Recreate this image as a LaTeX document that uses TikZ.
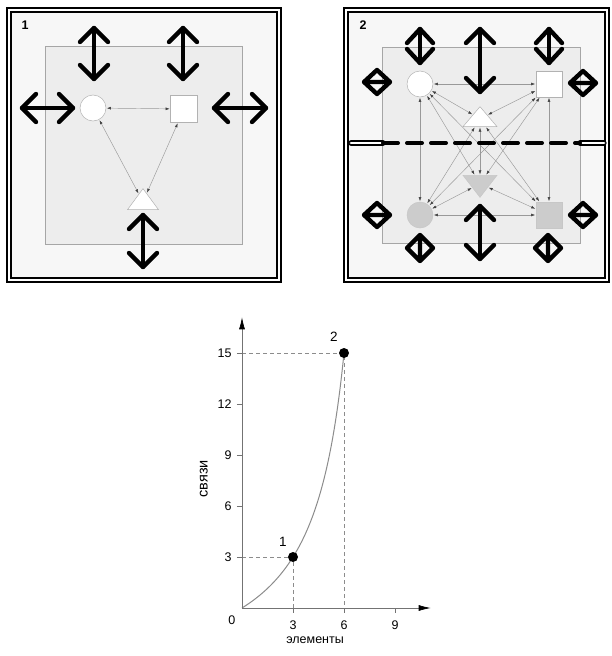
\documentclass[tikz,border=0pt]{standalone}
\usepackage{fontspec}
\setmainfont{Liberation Sans}
\usetikzlibrary{arrows.meta,shapes.geometric}

% thick open-headed double arrows and diamond markers
\newcommand\ArrV[3]{% x, y top, y bottom
  \draw[bigarrow] (#1-14,#2+14) -- (#1,#2) -- (#1+14,#2+14);
  \draw[bigarrow] (#1,#2) -- (#1,#3);
  \draw[bigarrow] (#1-14,#3-14) -- (#1,#3) -- (#1+14,#3-14);}
\newcommand\ArrH[3]{% y, x left, x right
  \draw[bigarrow] (#2+14,#1-14) -- (#2,#1) -- (#2+14,#1+14);
  \draw[bigarrow] (#2,#1) -- (#3,#1);
  \draw[bigarrow] (#3-14,#1-14) -- (#3,#1) -- (#3-14,#1+14);}
\newcommand\ChevV[2]{% short vertical double arrow centred at x, y
  \draw[bigarrow] (#1-13,#2-3) -- (#1,#2-17) -- (#1+13,#2-3);
  \draw[bigarrow] (#1-13,#2+3) -- (#1,#2+17) -- (#1+13,#2+3);
  \draw[bigarrow] (#1,#2-17) -- (#1,#2+17);}
\newcommand\DiamH[2]{% diamond with horizontal bar
  \draw[bigarrow] (#1-13,#2) -- (#1,#2-12) -- (#1+13,#2) -- (#1,#2+12) -- cycle
    (#1-13,#2) -- (#1+13,#2);}
\newcommand\DiamV[2]{% diamond with vertical bar
  \draw[bigarrow] (#1-13,#2) -- (#1,#2-13) -- (#1+13,#2) -- (#1,#2+13) -- cycle
    (#1,#2-13) -- (#1,#2+13);}

\begin{document}
\begin{tikzpicture}[x=1pt,y=-1pt,
  frame/.style={draw=black,line width=1.6pt,double=white,double distance=2.4pt},
  panelbg/.style={fill=black!3},
  innerbox/.style={draw=black!35,line width=0.6pt,fill=black!7},
  bigarrow/.style={draw=black,line width=4.4pt,line cap=round,line join=round},
  shapebase/.style={line width=0.5pt,inner sep=0pt},
  whitenode/.style={shapebase,draw=black!30,fill=white},
  graynode/.style={shapebase,draw=black!22,fill=black!20},
  roundnode/.style={circle,minimum size=26pt},
  squarenode/.style={rectangle,minimum size=26pt},
  tri/.style={isosceles triangle,isosceles triangle stretches,
    minimum width=#1,inner sep=0pt},
  link/.style={draw=black!40,line width=0.45pt,
    {Latex[length=4pt,width=2.8pt,color=black!75]}-{Latex[length=4pt,width=2.8pt,color=black!75]},
    shorten <=0.6pt,shorten >=0.6pt},
  pipe/.style={draw=black,line width=1.2pt,double=white,double distance=2.8pt,line cap=round},
  cut/.style={draw=black,line width=4pt,dash pattern=on 15pt off 9pt,line cap=round},
  panellabel/.style={font=\bfseries\fontsize{12.5}{14}\selectfont,inner sep=0pt},
  axis/.style={draw=black!55,line width=0.7pt,-{Latex[length=12pt,width=6pt,color=black]}},
  guide/.style={draw=black!45,line width=0.5pt,dash pattern=on 4pt off 3pt},
  curveline/.style={draw=black!45,line width=1pt},
  dot/.style={circle,fill=black,inner sep=0pt,minimum size=10pt},
  ticklabel/.style={font=\fontsize{12.5}{14}\selectfont,inner sep=0pt},
  axislabel/.style={font=\fontsize{12.5}{14}\selectfont,inner sep=0pt}]

\useasboundingbox[fill=white] (0,0) rectangle (612,656);

% ---------------- panel 1 ----------------
\path[panelbg] (9,10) rectangle (279,280);
\draw[frame] (9,10) rectangle (279,280);
\path[innerbox] (45,46) rectangle (242,244);
\node[panellabel] (lab1) at (25,25) {1};

\node[whitenode,roundnode] (a1) at (93,108) {};
\node[whitenode,squarenode,minimum size=27pt] (b1) at (184,109) {};
\node[whitenode,tri=31pt,shape border rotate=90,minimum height=21pt,anchor=apex] (c1) at (143,188) {};

\draw[link] (a1) -- (b1);
\draw[link] (a1) -- (c1);
\draw[link] (b1) -- (c1);

\ArrV{94}{28}{79}
\ArrV{183}{28}{79}
\ArrH{108}{22}{73}
\ArrH{108}{214}{266}
\ArrV{143}{215}{267}

% ---------------- panel 2 ----------------
\path[panelbg] (346,10) rectangle (607,280);
\draw[frame] (346,10) rectangle (607,280);
\path[innerbox] (382,47) rectangle (580,243);
\node[panellabel] (lab2) at (363,25) {2};

\node[whitenode,roundnode] (p) at (420,84) {};
\node[whitenode,squarenode] (q) at (549,84) {};
\node[whitenode,tri=34pt,shape border rotate=90,minimum height=20pt,anchor=apex] (r) at (480,106) {};
\node[graynode,tri=34pt,shape border rotate=270,minimum height=22pt,anchor=apex] (s) at (480,198) {};
\node[graynode,roundnode] (t) at (420,215) {};
\node[graynode,squarenode] (u) at (549,215) {};

\foreach \i/\j in {p/q,p/t,q/u,t/u,r/s,p/r,q/r,p/s,q/s,t/r,u/r,t/s,u/s,p/u,q/t}
  \draw[link] (\i) -- (\j);

% divider across the panel
\coordinate (cutL) at (383,143);
\coordinate (cutR) at (580,143);
\coordinate (wallL) at (351,143);
\coordinate (wallR) at (604,143);
\draw[pipe] (wallL) -- (cutL);
\draw[pipe] (cutR) -- (wallR);
\draw[cut] (cutL) -- (cutR);

\ChevV{420}{46}
\ChevV{549}{46}
\ArrV{480}{29}{92}
\ArrV{480}{206}{259}
\DiamH{377}{82}
\DiamH{377}{215}
\DiamH{583}{83}
\DiamH{583}{215}
\DiamV{420}{248}
\DiamV{548}{248}

% ---------------- growth chart ----------------
\begin{scope}[shift={(242,608)},x=17pt,y=17pt]
  \coordinate (o) at (0,0);
  \coordinate (xend) at (11.1,0);
  \coordinate (yend) at (0,17.1);
  \draw[guide] (0,15) -- (6,15) -- (6,0);
  \draw[guide] (0,3) -- (3,3) -- (3,0);
  \draw[curveline] plot[domain=0:6,samples=90,smooth] (\x,{5*\x/(8-\x)});
  \draw[axis] (o) -- (xend);
  \draw[axis] (o) -- (yend);
  \foreach \k in {3,6,9,12,15} {
    \draw[black!55,line width=0.6pt] (-0.3,\k) -- (0,\k);
    \node[ticklabel,anchor=east] at (-0.6,\k) {\k};
  }
  \foreach \k in {3,6,9} {
    \draw[black!55,line width=0.6pt] (\k,0) -- (\k,-0.3);
    \node[ticklabel] at (\k,-1.0) {\k};
  }
  \node[ticklabel] (zero) at (-0.6,-0.7) {0};
  \node[dot] (pt1) at (3,3) {};
  \node[dot] (pt2) at (6,15) {};
  \node[ticklabel,font=\fontsize{13.5}{15}\selectfont] (n1) at (2.4,3.9) {1};
  \node[ticklabel,font=\fontsize{13.5}{15}\selectfont] (n2) at (5.4,15.95) {2};
  \node[axislabel] (xl) at (4.3,-1.9) {элементы};
  \node[axislabel,font=\fontsize{14.5}{16}\selectfont,rotate=90] (yl) at (-2.25,7.6) {связи};
\end{scope}
\end{tikzpicture}
\end{document}
